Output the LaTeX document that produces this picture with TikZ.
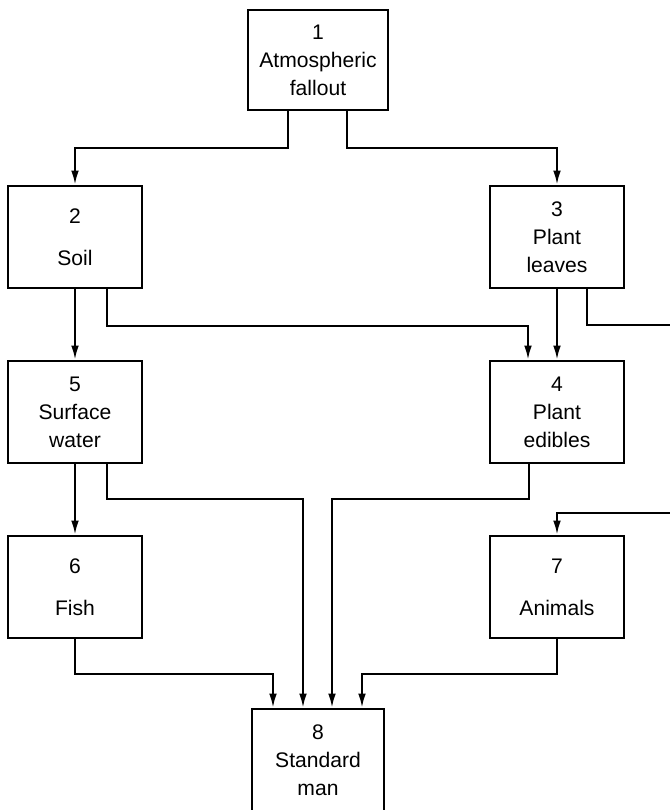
\documentclass[tikz,border=0pt]{standalone}
\usepackage{fontspec}
\setmainfont{Liberation Sans}
\usetikzlibrary{arrows.meta,calc}

\tikzset{
  comp/.style={draw, line width=2pt, minimum width=3.35cm, minimum height=2.55cm,
    inner sep=0pt, align=center, font=\fontsize{15}{20}\selectfont},
  flow/.style={-{Latex[length=10pt,width=5.5pt]}, line width=1.4pt},
}

\begin{document}
\begin{tikzpicture}[x=0.025cm, y=-0.025cm]
    \clip (0,0) rectangle (670,810);
    \fill[white] (0,0) rectangle (670,810);

    % compartments
    \node[comp, minimum width=3.5cm, minimum height=2.5cm] (fallout) at (318,60) {1\\Atmospheric\\fallout};
    \node[comp] (soil) at (75,237) {2\\[10pt]Soil};
    \node[comp] (leaves) at (557,237) {3\\Plant\\leaves};
    \node[comp] (water) at (75,412) {5\\Surface\\water};
    \node[comp] (edibles) at (557,412) {4\\Plant\\edibles};
    \node[comp] (fish) at (75,587) {6\\[10pt]Fish};
    \node[comp] (animals) at (557,587) {7\\[10pt]Animals};
    \node[comp, minimum width=3.3cm] (man) at (318,760) {8\\Standard\\man};

    % transfer paths
    \draw[flow] ($(fallout.south)+(-30,0)$) -- ++(0,37) -| (soil);
    \draw[flow] ($(fallout.south)+(29,0)$) -- ++(0,37) -| (leaves);
    \draw[flow] (soil) -- (water);
    \draw[flow] ($(soil.south)+(32,0)$) -- ++(0,37) -| ($(edibles.north)+(-29,0)$);
    \draw[flow] (leaves) -- (edibles);
    \coordinate (loop) at (700,513);
    \draw[flow] ($(leaves.south)+(30,0)$) -- ++(0,36) -| (loop) -| (animals);
    \draw[flow] (water) -- (fish);
    \draw[flow] ($(water.south)+(32,0)$) -- ++(0,35) -| ($(man.north)+(-15,0)$);
    \draw[flow] ($(edibles.south)+(-28,0)$) -- ++(0,35) -| ($(man.north)+(14,0)$);
    \draw[flow] (fish) -- ++(0,87) -| ($(man.north)+(-45,0)$);
    \draw[flow] (animals) -- ++(0,87) -| ($(man.north)+(44,0)$);
\end{tikzpicture}
\end{document}
